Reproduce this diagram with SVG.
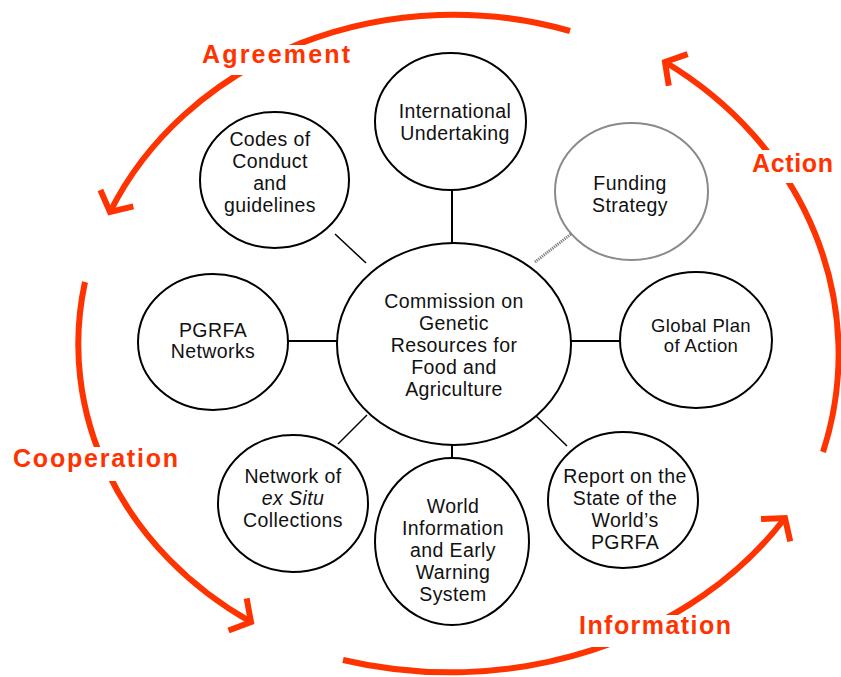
<svg xmlns="http://www.w3.org/2000/svg" width="841" height="677" viewBox="0 0 841 677">
  <style>
    .node { fill: #ffffff; stroke: #000000; stroke-width: 2; }
    .node.soft { stroke: #8a8a8a; }
    .label { font-family: "Liberation Sans", Arial, sans-serif; font-size: 19.5px; fill: #111111; text-anchor: middle; letter-spacing: 0.4px; }
    .label.tight { font-size: 18.5px; }
    .link { stroke: #000000; stroke-width: 2; fill: none; }
    .link.thin { stroke-width: 1.5; }
    .link.hatched { stroke: #7a7a7a; stroke-width: 3; stroke-dasharray: 1.2 1; }
    .cycle { fill: none; stroke: #ff3300; stroke-width: 6; }
    .cycle-box { fill: #ffffff; stroke: none; }
    .cycle-label { font-family: "Liberation Sans", Arial, sans-serif; font-size: 25px; font-weight: bold; fill: #ff3300; }
  </style>
  <defs>
    <marker id="chevron" markerUnits="userSpaceOnUse" viewBox="0 0 44 50" markerWidth="44" markerHeight="50" refX="30" refY="25" orient="auto">
      <path d="M14.6 6.6 L30 25 L14.6 43.4" fill="none" stroke="#ff3300" stroke-width="6" stroke-linejoin="miter"/>
    </marker>
  </defs>

  <rect width="841" height="677" fill="#ffffff"/>

  <!-- outer cycle: four curved arrows running counter-clockwise -->
  <g id="cycle">
    <path class="cycle" d="M570 31 A375 330 0 0 0 110 212" marker-end="url(#chevron)"/>
    <path class="cycle" d="M85 282 A375 330 0 0 0 251 622" marker-end="url(#chevron)"/>
    <path class="cycle" d="M343 660 A400 340 0 0 0 785 518" marker-end="url(#chevron)"/>
    <path class="cycle" d="M823 452 A388 350 0 0 0 665 62" marker-end="url(#chevron)"/>
  </g>

  <!-- cycle labels sit on white boxes that break the arrows -->
  <g id="label-agreement">
    <rect class="cycle-box" x="199" y="45" width="155" height="30"/>
    <text class="cycle-label" x="202" y="63" textLength="148" lengthAdjust="spacing">Agreement</text>
  </g>
  <g id="label-action">
    <rect class="cycle-box" x="746" y="150" width="93" height="33"/>
    <text class="cycle-label" x="752" y="172" textLength="81" lengthAdjust="spacing">Action</text>
  </g>
  <g id="label-cooperation">
    <rect class="cycle-box" x="8" y="447" width="176" height="34"/>
    <text class="cycle-label" x="13" y="467" textLength="165" lengthAdjust="spacing">Cooperation</text>
  </g>
  <g id="label-information">
    <rect class="cycle-box" x="574" y="615" width="163" height="32"/>
    <text class="cycle-label" x="579" y="634" textLength="152" lengthAdjust="spacing">Information</text>
  </g>

  <!-- spokes from the Commission to each instrument -->
  <g id="connectors">
    <line class="link" x1="452" y1="190" x2="452" y2="243"/>
    <line class="link thin" x1="335" y1="234" x2="366" y2="263"/>
    <line class="link hatched" x1="535" y1="262" x2="571" y2="234"/>
    <line class="link" x1="288" y1="341" x2="337" y2="341"/>
    <line class="link" x1="571" y1="341" x2="620" y2="341"/>
    <line class="link thin" x1="338" y1="444" x2="367" y2="415"/>
    <line class="link" x1="452" y1="445" x2="452" y2="459"/>
    <line class="link thin" x1="535" y1="415" x2="567" y2="446"/>
  </g>

  <g id="commission">
    <ellipse class="node" cx="454" cy="344" rx="117" ry="101"/>
    <text class="label" x="454" y="308">Commission on</text>
    <text class="label" x="454" y="330">Genetic</text>
    <text class="label" x="454" y="352">Resources for</text>
    <text class="label" x="454" y="374">Food and</text>
    <text class="label" x="454" y="396">Agriculture</text>
  </g>

  <g id="international-undertaking">
    <ellipse class="node" cx="450.5" cy="121.5" rx="75.5" ry="68.5"/>
    <text class="label" x="455" y="118">International</text>
    <text class="label" x="455" y="140">Undertaking</text>
  </g>

  <g id="codes-of-conduct">
    <ellipse class="node" cx="274.5" cy="180" rx="74.5" ry="68"/>
    <text class="label" x="270" y="146">Codes of</text>
    <text class="label" x="270" y="168">Conduct</text>
    <text class="label" x="270" y="190">and</text>
    <text class="label" x="270" y="212">guidelines</text>
  </g>

  <g id="funding-strategy">
    <ellipse class="node soft" cx="631.5" cy="191.5" rx="76.5" ry="68.5"/>
    <text class="label" x="630" y="190">Funding</text>
    <text class="label" x="630" y="212">Strategy</text>
  </g>

  <g id="global-plan">
    <ellipse class="node" cx="696" cy="340" rx="76" ry="68"/>
    <text class="label tight" x="701" y="332">Global Plan</text>
    <text class="label tight" x="701" y="352">of Action</text>
  </g>

  <g id="pgrfa-networks">
    <ellipse class="node" cx="213" cy="342" rx="75" ry="68"/>
    <text class="label" x="213" y="337">PGRFA</text>
    <text class="label" x="213" y="358">Networks</text>
  </g>

  <g id="ex-situ-network">
    <ellipse class="node" cx="293" cy="503.5" rx="75" ry="68.5"/>
    <text class="label" x="293" y="483">Network of</text>
    <text class="label" x="293" y="505" font-style="italic">ex Situ</text>
    <text class="label" x="293" y="527">Collections</text>
  </g>

  <g id="world-information">
    <ellipse class="node" cx="452" cy="541.5" rx="77" ry="83.5"/>
    <text class="label" x="453" y="513">World</text>
    <text class="label" x="453" y="535">Information</text>
    <text class="label" x="453" y="557">and Early</text>
    <text class="label" x="453" y="579">Warning</text>
    <text class="label" x="453" y="601">System</text>
  </g>

  <g id="state-of-world-report">
    <ellipse class="node" cx="623" cy="500" rx="75" ry="68"/>
    <text class="label" x="625" y="483">Report on the</text>
    <text class="label" x="625" y="505">State of the</text>
    <text class="label" x="625" y="527">World’s</text>
    <text class="label" x="625" y="549">PGRFA</text>
  </g>
</svg>
